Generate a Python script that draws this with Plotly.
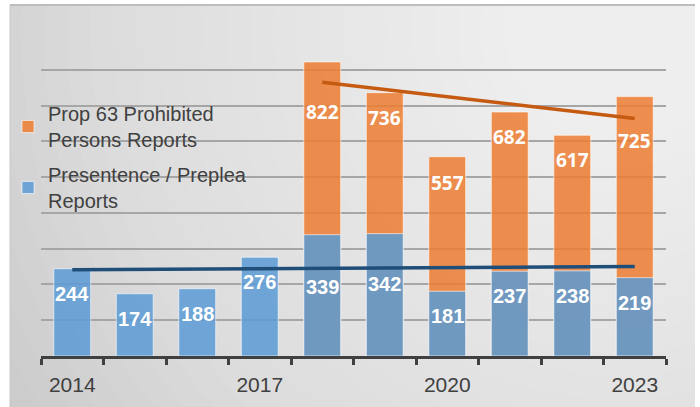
import plotly.graph_objs as go

# report counts per year
YEARS = [2014, 2015, 2016, 2017, 2018, 2019, 2020, 2021, 2022, 2023]
PRESENTENCE = [244, 174, 188, 276, 339, 342, 181, 237, 238, 219]
PROP63_YEARS = [2018, 2019, 2020, 2021, 2022, 2023]
PROP63 = [822, 736, 557, 682, 617, 725]

# linear trend lines, end points as drawn in the original
PROP63_TREND_X = [2018, 2023]
PROP63_TREND_Y = [765, 664]
PRESENTENCE_TREND_X = [2014, 2023]
PRESENTENCE_TREND_Y = [241, 250]

TICK_YEARS = [2014, 2017, 2020, 2023]

# label offsets (px below bar top); a few were nudged away from trend lines
PRESENTENCE_SHIFT = [-25, -25, -25, -25, -52, -50, -25, -25, -25, -25]
PROP63_SHIFT = [-50, -25, -26, -25, -25, -44]

W, H = 700, 407
L, R, T, B = 41, 34, 34, 51
PW, PH = W - L - R, H - T - B


def px_to_paper(x, y):
    return (x - L) / PW, (H - B - y) / PH


fig = go.Figure()
fig.add_trace(go.Bar(x=PROP63_YEARS, y=PROP63, name='Prop 63 Prohibited<br>Persons Reports', legendgroup='p63',
                     marker=dict(color='rgba(237,125,49,0.85)', line=dict(color='rgba(255,255,255,0.6)', width=1))))
fig.add_trace(go.Bar(x=YEARS, y=PRESENTENCE, name='Presentence / Preplea<br>Reports', legendgroup='pre',
                     marker=dict(color='rgba(91,155,213,0.85)', line=dict(color='rgba(255,255,255,0.6)', width=1))))
fig.add_trace(go.Scatter(x=PROP63_TREND_X, y=PROP63_TREND_Y, mode='lines', showlegend=False,
                         line=dict(color='#C55A11', width=3.5), hoverinfo='skip'))
fig.add_trace(go.Scatter(x=PRESENTENCE_TREND_X, y=PRESENTENCE_TREND_Y, mode='lines', showlegend=False,
                         line=dict(color='#1F4E79', width=3.5), hoverinfo='skip'))

for yr, v, s in zip(PROP63_YEARS, PROP63, PROP63_SHIFT):
    fig.add_annotation(x=yr, y=v, text=str(v), showarrow=False, yanchor='middle', yshift=s,
                       font=dict(family='Open Sans', size=19, color='white', weight='bold'))
for yr, v, s in zip(YEARS, PRESENTENCE, PRESENTENCE_SHIFT):
    fig.add_annotation(x=yr, y=v, text=str(v), showarrow=False, yanchor='middle', yshift=s,
                       font=dict(family='Liberation Sans', size=20, color='white', weight='bold'))

# frame with a rough radial gradient (light at top right)
shapes = []
x0, y1 = px_to_paper(10, 5)
x1, y0 = px_to_paper(695, 412)
shapes.append(dict(type='rect', xref='paper', yref='paper', x0=x0, x1=x1, y0=y0, y1=y1,
                   fillcolor='#c4c4c4', line=dict(width=0), layer='below'))
cx, cy = 620, 30
for i in range(30):
    r = 760 - i * 23
    ax0, ay1 = px_to_paper(cx - r, cy - r)
    ax1, ay0 = px_to_paper(cx + r, cy + r)
    shapes.append(dict(type='circle', xref='paper', yref='paper', x0=ax0, x1=ax1, y0=ay0, y1=ay1,
                       fillcolor='rgba(255,255,255,0.055)', line=dict(width=0), layer='below'))
# trim gradient back to the frame
for rect in [(-5, -10, 10, 420), (695, -10, 710, 420), (-5, -10, 710, 4)]:
    a0, b1 = px_to_paper(rect[0], rect[1])
    a1, b0 = px_to_paper(rect[2], rect[3])
    shapes.append(dict(type='rect', xref='paper', yref='paper', x0=a0, x1=a1, y0=b0, y1=b1,
                       fillcolor='white', line=dict(width=0), layer='below'))
lx0, ly = px_to_paper(10, 5)
lx1, _ = px_to_paper(695, 5)
shapes.append(dict(type='line', xref='paper', yref='paper', x0=lx0, x1=lx1, y0=ly, y1=ly,
                   line=dict(color='#bdbdbd', width=2), layer='below'))
vx, vy0 = px_to_paper(10, 412)
_, vy1 = px_to_paper(10, 5)
shapes.append(dict(type='line', xref='paper', yref='paper', x0=vx, x1=vx, y0=vy0, y1=vy1,
                   line=dict(color='#c8c8c8', width=1), layer='below'))

lgx, lgy = px_to_paper(8, 94)
fig.update_layout(
    width=W, height=H,
    margin=dict(l=L, r=R, t=T, b=B, autoexpand=False),
    barmode='overlay', bargap=0.41,
    paper_bgcolor='white', plot_bgcolor='rgba(0,0,0,0)',
    shapes=shapes,
    font=dict(family='Liberation Sans', color='#404040'),
    legend=dict(x=lgx, y=lgy, xanchor='left', yanchor='top', bgcolor='rgba(0,0,0,0)',
                font=dict(family='Liberation Sans', size=20, color='#404040'), tracegroupgap=6),
    showlegend=True,
)
fig.update_xaxes(range=[2013.5, 2023.5], tickvals=TICK_YEARS, ticks='', ticklabelstandoff=8,
                 tickfont=dict(family='Liberation Sans', size=21, color='#404040'), showgrid=False, zeroline=False,
                 showline=True, linecolor='#404040', linewidth=3, automargin=False,
                 minor=dict(tick0=2013.5, dtick=1, ticks='outside', ticklen=6, tickwidth=3,
                            tickcolor='#404040', showgrid=False))
fig.update_yaxes(range=[0, 900], dtick=100, showticklabels=False, showgrid=True, automargin=False,
                 gridcolor='#a6a6a6', gridwidth=1.5, zeroline=False)

# page body has a default margin; drop it so the figure sits at the window corner
fig.write_html("out.html", config={'displayModeBar': False},
               post_script="document.body.style.margin='0';")
